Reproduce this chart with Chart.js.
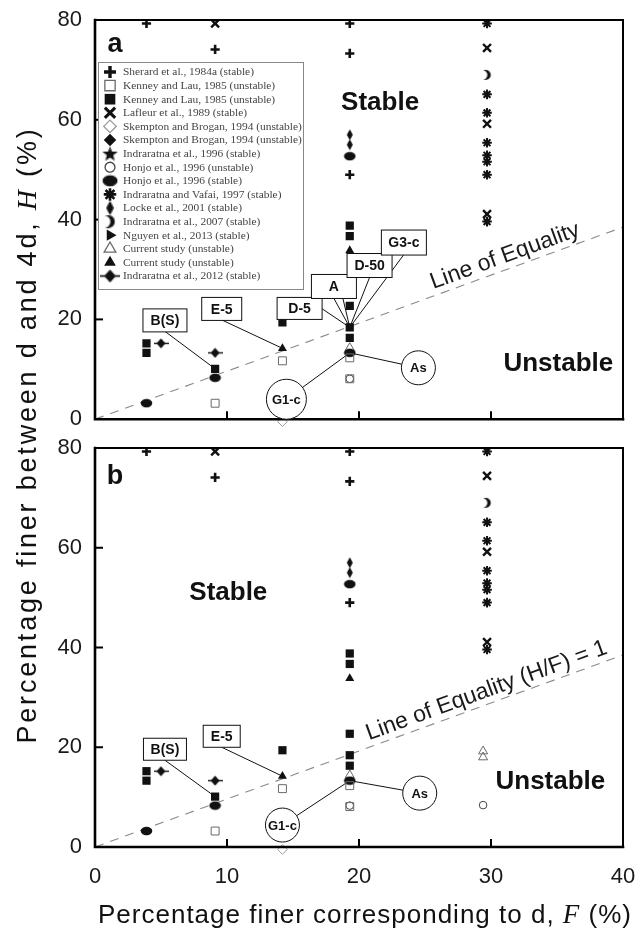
<!DOCTYPE html>
<html>
<head>
<meta charset="utf-8">
<script src="https://cdn.jsdelivr.net/npm/chart.js@4.4.1/dist/chart.umd.min.js"></script>
<style>
  html, body { margin:0; padding:0; background:#fff; }
  #wrap { position:relative; width:642px; height:931px; overflow:hidden; background:#fff; }
  #chartB { position:absolute; left:0; top:0; }
  #chartA { position:absolute; left:0; top:-30px; }
</style>
</head>
<body>
<div id="wrap">
  <canvas id="chartB" width="670" height="931"></canvas>
  <canvas id="chartA" width="642" height="476"></canvas>
</div>
<script>
// ================= DATA =================
const fTicks = [0, 10, 20, 30, 40];
const hTicks = [0, 20, 40, 60, 80];

const seriesLabels = [
  'Sherard et al., 1984a (stable)',
  'Kenney and Lau, 1985 (unstable)',
  'Kenney and Lau, 1985 (unstable)',
  'Lafleur et al., 1989 (stable)',
  'Skempton and Brogan, 1994 (unstable)',
  'Skempton and Brogan, 1994 (unstable)',
  'Indraratna et al., 1996 (stable)',
  'Honjo et al., 1996 (unstable)',
  'Honjo et al., 1996 (stable)',
  'Indraratna and Vafai, 1997 (stable)',
  'Locke et al., 2001 (stable)',
  'Indraratna et al., 2007 (stable)',
  'Nguyen et al., 2013 (stable)',
  'Current study (unstable)',
  'Current study (unstable)',
  'Indraratna et al., 2012 (stable)'
];

// points as [F, H]  (panel a)
const sherard        = [[3.9, 79.3], [9.1, 74.1], [19.3, 79.3], [19.3, 73.3], [19.3, 49.0]];
const kenneyOpen     = [[9.1, 3.2], [14.2, 11.7], [19.3, 12.3], [19.3, 8.1]];
const kenneyFilled   = [[3.9, 15.2], [3.9, 13.3], [9.1, 10.1], [14.2, 19.4], [19.3, 38.8], [19.3, 36.7], [19.3, 22.7], [19.3, 18.4], [19.3, 16.3]];
const lafleur        = [[9.1, 79.3], [29.7, 74.4], [29.7, 59.2], [29.7, 41.1]];
const skemptonOpen   = [[14.2, -0.5]];
const skemptonFilled = [];
const indraratna1996 = [];
const honjoOpen      = [[19.3, 8.1], [19.3, -2.0]];
const honjoFilled    = [[3.9, 3.2], [9.1, 8.3], [19.3, 52.7], [19.3, 13.3]];
const indraratnaVafai= [[29.7, 79.3], [29.7, 65.1], [29.7, 61.4], [29.7, 55.4], [29.7, 52.9], [29.7, 51.6], [29.7, 49.0], [29.7, 39.6]];
const locke          = [[19.3, 57.0], [19.3, 55.0]];
const indraratna2007 = [[29.7, 69.0]];
const nguyen         = [];
const currentOpen    = [[19.3, 14.3]];
const currentFilled  = [[14.2, 14.2], [19.3, 33.8]];
const indraratna2012 = [[5.0, 15.2], [9.1, 13.3]];

// panel b differences
const honjoOpenB     = [[19.3, 8.3], [19.3, -1.5], [29.4, 8.4], [29.4, -1.5]];
const currentOpenB   = [[19.3, 14.4], [29.4, 19.2], [29.4, 18.0]];

const equalityLine = [[0, 0], [40, 38.5]];

const seriesA = [sherard, kenneyOpen, kenneyFilled, lafleur, skemptonOpen, skemptonFilled, indraratna1996,
  honjoOpen, honjoFilled, indraratnaVafai, locke, indraratna2007, nguyen, currentOpen, currentFilled, indraratna2012];
const seriesB = [sherard, kenneyOpen, kenneyFilled, lafleur, skemptonOpen, skemptonFilled, indraratna1996,
  honjoOpenB, honjoFilled, indraratnaVafai, locke, indraratna2007, nguyen, currentOpenB, currentFilled, indraratna2012];

const regionLabels = ['Stable', 'Unstable'];
const eqTextA = 'Line of Equality';
const eqTextB = 'Line of Equality (H/F) = 1';
const xTitleParts = ['Percentage finer corresponding to d, ', 'F', ' (%)'];
const yTitleParts = ['Percentage finer between d and 4d, ', 'H', ' (%)'];

// ================= STYLES =================
const SANS = '"Liberation Sans", Arial, Helvetica, sans-serif';
const SERIF = '"Liberation Serif", "Times New Roman", serif';
const BLACK = '#111';
const GREY = '#6a6a6a';

function mkCanvas(w, h, fn) {
  const c = document.createElement('canvas');
  c.width = w; c.height = h;
  fn(c.getContext('2d'), w, h);
  return c;
}
const imgStar = mkCanvas(13, 13, g => {
  g.fillStyle = BLACK; g.beginPath();
  for (let i = 0; i < 10; i++) {
    const r = i % 2 ? 2.6 : 6.2, a = -Math.PI / 2 + i * Math.PI / 5;
    g.lineTo(6.5 + r * Math.cos(a), 7 + r * Math.sin(a));
  }
  g.closePath(); g.fill();
});
const imgEllipse = mkCanvas(13, 10, g => {
  g.fillStyle = BLACK; g.beginPath(); g.ellipse(6.5, 5, 5.8, 4.2, 0, 0, Math.PI * 2); g.fill();
});
const imgLocke = mkCanvas(8, 12, g => {
  g.fillStyle = BLACK; g.beginPath();
  g.moveTo(4, 0.5); g.lineTo(7, 6); g.lineTo(4, 11.5); g.lineTo(1, 6); g.closePath(); g.fill();
});
const imgCrescent = mkCanvas(9, 12, g => {
  g.fillStyle = BLACK; g.beginPath(); g.arc(3.2, 6, 5, 0, Math.PI * 2); g.fill();
  g.globalCompositeOperation = 'destination-out';
  g.beginPath(); g.arc(0.2, 6, 4.6, 0, Math.PI * 2); g.fill();
});
const imgDiaLine = mkCanvas(15, 11, g => {
  g.strokeStyle = BLACK; g.lineWidth = 1.4; g.beginPath(); g.moveTo(0, 5.5); g.lineTo(15, 5.5); g.stroke();
  g.fillStyle = BLACK; g.beginPath();
  g.moveTo(7.5, 0.5); g.lineTo(12, 5.5); g.lineTo(7.5, 10.5); g.lineTo(3, 5.5); g.closePath(); g.fill();
});

const TRANSP = 'rgba(255,255,255,0)';
const STYLES = [
  { pointStyle: 'cross',    pointRadius: 4.6, pointBorderWidth: 2.6, pointBorderColor: BLACK, pointBackgroundColor: BLACK },
  { pointStyle: 'rect',     pointRadius: 5.6, pointBorderWidth: 1,   pointBorderColor: GREY,  pointBackgroundColor: TRANSP },
  { pointStyle: 'rect',     pointRadius: 5.8, pointBorderWidth: 0,   pointBorderColor: BLACK, pointBackgroundColor: BLACK },
  { pointStyle: 'crossRot', pointRadius: 5.6, pointBorderWidth: 2.4, pointBorderColor: BLACK, pointBackgroundColor: BLACK },
  { pointStyle: 'rectRot',  pointRadius: 4.8, pointBorderWidth: 1,   pointBorderColor: '#999', pointBackgroundColor: TRANSP },
  { pointStyle: 'rectRot',  pointRadius: 4.8, pointBorderWidth: 0,   pointBorderColor: BLACK, pointBackgroundColor: BLACK },
  { pointStyle: imgStar,    pointRadius: 5 },
  { pointStyle: 'circle',   pointRadius: 3.8, pointBorderWidth: 1,   pointBorderColor: '#444', pointBackgroundColor: TRANSP },
  { pointStyle: imgEllipse, pointRadius: 5 },
  { pointStyle: 'star',     pointRadius: 4.8, pointBorderWidth: 2.0, pointBorderColor: BLACK, pointBackgroundColor: BLACK },
  { pointStyle: imgLocke,   pointRadius: 5 },
  { pointStyle: imgCrescent,pointRadius: 5 },
  { pointStyle: 'triangle', pointRadius: 5, pointRotation: 90, pointBorderWidth: 0, pointBorderColor: BLACK, pointBackgroundColor: BLACK },
  { pointStyle: 'triangle', pointRadius: 5.2, pointBorderWidth: 1,   pointBorderColor: GREY,  pointBackgroundColor: TRANSP },
  { pointStyle: 'triangle', pointRadius: 5.2, pointBorderWidth: 0,   pointBorderColor: BLACK, pointBackgroundColor: BLACK },
  { pointStyle: imgDiaLine, pointRadius: 5 }
];
const NOCLIP = [4, 7];

// annotation callouts (anchor in data units, connector target = data point)
const notesA = [
  { text: 'B(S)', shape: 'box', at: [5.3, 19.8], w: 44, h: 23, to: [[9.1, 10.1]], from: [[0, 11]] },
  { text: 'E-5',  shape: 'box', at: [9.6, 22.1], w: 40, h: 23, to: [[14.2, 14.2]], from: [[0, 11]] },
  { text: 'D-5',  shape: 'box', at: [15.5, 22.2], w: 45, h: 22, to: [[19.3, 18.4]], from: [[22, 0]] },
  { text: 'A',    shape: 'box', at: [18.1, 26.6], w: 45, h: 24, to: [[19.3, 18.4], [19.3, 18.4]], from: [[0, 12], [9, 12]] },
  { text: 'D-50', shape: 'box', at: [20.8, 30.8], w: 45, h: 24, to: [[19.3, 18.4]], from: [[0, 12]] },
  { text: 'G3-c', shape: 'box', at: [23.4, 35.4], w: 45, h: 25, to: [[19.3, 18.4]], from: [[0, 12]] },
  { text: 'As',   shape: 'circle', at: [24.5, 10.3], r: 17, to: [[19.3, 13.3]] },
  { text: 'G1-c', shape: 'circle', at: [14.5, 4.0], r: 20, to: [[19.3, 13.3]] }
];
const notesB = [
  { text: 'B(S)', shape: 'box', at: [5.3, 19.6], w: 43, h: 22, to: [[9.1, 10.1]], from: [[0, 11]] },
  { text: 'E-5',  shape: 'box', at: [9.6, 22.2], w: 37, h: 22, to: [[14.2, 14.2]], from: [[0, 11]] },
  { text: 'G1-c', shape: 'circle', at: [14.2, 4.4], r: 17, to: [[19.3, 13.3]] },
  { text: 'As',   shape: 'circle', at: [24.6, 10.8], r: 17, to: [[19.3, 13.3]] }
];

// ================= HELPERS =================
function drawSymbol(ctx, st, x, y, k) {
  ctx.save();
  ctx.translate(x, y); ctx.scale(k, k);
  const ps = st.pointStyle;
  if (ps instanceof HTMLCanvasElement) {
    ctx.drawImage(ps, -ps.width / 2, -ps.height / 2);
    ctx.restore(); return;
  }
  const r = st.pointRadius;
  let rad = (st.pointRotation || 0) * Math.PI / 180;
  ctx.lineWidth = st.pointBorderWidth;
  ctx.strokeStyle = st.pointBorderColor; ctx.fillStyle = st.pointBackgroundColor;
  ctx.beginPath();
  const cross = (a) => {
    const xo = Math.sin(a) * r, yo = Math.cos(a) * r;
    ctx.moveTo(-xo, -yo); ctx.lineTo(xo, yo);
    ctx.moveTo(-yo, xo); ctx.lineTo(yo, -xo);
  };
  switch (ps) {
    case 'cross': cross(rad); break;
    case 'crossRot': cross(rad + Math.PI / 4); break;
    case 'star': cross(rad); cross(rad + Math.PI / 4); break;
    case 'rect': { const s = r * Math.SQRT1_2; ctx.rect(-s, -s, 2 * s, 2 * s); break; }
    case 'rectRot': ctx.moveTo(-r, 0); ctx.lineTo(0, -r); ctx.lineTo(r, 0); ctx.lineTo(0, r); ctx.closePath(); break;
    case 'circle': ctx.arc(0, 0, r, 0, Math.PI * 2); break;
    case 'triangle':
      ctx.moveTo(Math.sin(rad) * r, -Math.cos(rad) * r); rad += 2 * Math.PI / 3;
      ctx.lineTo(Math.sin(rad) * r, -Math.cos(rad) * r); rad += 2 * Math.PI / 3;
      ctx.lineTo(Math.sin(rad) * r, -Math.cos(rad) * r); ctx.closePath(); break;
  }
  if (!/cross|star/.test(ps)) ctx.fill();
  if (st.pointBorderWidth > 0) ctx.stroke();
  ctx.restore();
}

function drawFrame(chart) {
  const { ctx, chartArea: a, scales: { x, y } } = chart;
  ctx.save();
  ctx.strokeStyle = '#000'; ctx.lineCap = 'square';
  ctx.lineWidth = 2;
  ctx.beginPath(); ctx.moveTo(a.left, a.top); ctx.lineTo(a.right, a.top); ctx.lineTo(a.right, a.bottom); ctx.stroke();
  ctx.lineWidth = 2.6;
  ctx.beginPath(); ctx.moveTo(a.left, a.top); ctx.lineTo(a.left, a.bottom); ctx.lineTo(a.right, a.bottom); ctx.stroke();
  ctx.lineWidth = 2; ctx.lineCap = 'butt';
  hTicks.slice(1, -1).forEach(v => {
    const py = y.getPixelForValue(v);
    ctx.beginPath(); ctx.moveTo(a.left, py); ctx.lineTo(a.left + 8, py); ctx.stroke();
  });
  fTicks.slice(1, -1).forEach(v => {
    const px = x.getPixelForValue(v);
    ctx.beginPath(); ctx.moveTo(px, a.bottom); ctx.lineTo(px, a.bottom - 8); ctx.stroke();
  });
  ctx.restore();
}

function drawConnectors(chart, notes) {
  const { ctx, scales: { x, y } } = chart;
  ctx.save(); ctx.strokeStyle = BLACK; ctx.lineWidth = 1;
  notes.forEach(n => {
    const cx = x.getPixelForValue(n.at[0]), cy = y.getPixelForValue(n.at[1]);
    n.to.forEach((t, i) => {
      const off = n.from ? n.from[i] : [0, 0];
      ctx.beginPath();
      ctx.moveTo(cx + off[0], cy + off[1]);
      ctx.lineTo(x.getPixelForValue(t[0]), y.getPixelForValue(t[1]));
      ctx.stroke();
    });
  });
  ctx.restore();
}

function drawNoteShapes(chart, notes) {
  const { ctx, scales: { x, y } } = chart;
  ctx.save();
  notes.forEach(n => {
    const cx = x.getPixelForValue(n.at[0]), cy = y.getPixelForValue(n.at[1]);
    ctx.fillStyle = '#fff'; ctx.strokeStyle = BLACK; ctx.lineWidth = 1;
    if (n.shape === 'circle') {
      ctx.beginPath(); ctx.arc(cx, cy, n.r, 0, Math.PI * 2); ctx.fill(); ctx.stroke();
      ctx.font = 'bold 13px ' + SANS;
    } else {
      ctx.fillRect(cx - n.w / 2, cy - n.h / 2, n.w, n.h);
      ctx.strokeRect(cx - n.w / 2, cy - n.h / 2, n.w, n.h);
      ctx.font = 'bold 14px ' + SANS;
    }
    ctx.fillStyle = BLACK; ctx.textAlign = 'center'; ctx.textBaseline = 'middle';
    ctx.fillText(n.text, cx, cy + 1);
  });
  ctx.restore();
}

function drawTexts(chart, cfg) {
  const { ctx, chartArea: a, scales: { x, y } } = chart;
  ctx.save();
  ctx.fillStyle = BLACK; ctx.textAlign = 'center'; ctx.textBaseline = 'middle';
  ctx.font = 'bold 27px ' + SANS;
  ctx.fillText(cfg.panel, a.left + 20, a.top + cfg.panelDy);
  ctx.font = 'bold 26px ' + SANS;
  ctx.fillText(regionLabels[0], x.getPixelForValue(cfg.stable[0]), y.getPixelForValue(cfg.stable[1]));
  ctx.fillText(regionLabels[1], x.getPixelForValue(cfg.unstable[0]), y.getPixelForValue(cfg.unstable[1]));
  const x0 = x.getPixelForValue(equalityLine[0][0]), y0 = y.getPixelForValue(equalityLine[0][1]);
  const x1 = x.getPixelForValue(equalityLine[1][0]), y1 = y.getPixelForValue(equalityLine[1][1]);
  const ang = Math.atan2(y1 - y0, x1 - x0);
  const f = cfg.eqAt;
  const fy = equalityLine[0][1] + (equalityLine[1][1] - equalityLine[0][1]) * (f - equalityLine[0][0]) / (equalityLine[1][0] - equalityLine[0][0]);
  const px = x.getPixelForValue(f), py = y.getPixelForValue(fy);
  ctx.translate(px + Math.sin(ang) * cfg.eqOff, py - Math.cos(ang) * cfg.eqOff);
  ctx.rotate(ang);
  ctx.font = '23px ' + SANS; ctx.fillStyle = '#1a1a1a';
  ctx.fillText(cfg.eqText, 0, 0);
  ctx.restore();
}

function drawLegend(chart) {
  const { ctx, chartArea: a } = chart;
  const lx = a.left + 3, ly = a.top + 42, lw = 205, lh = 227;
  ctx.save();
  ctx.fillStyle = '#fff'; ctx.fillRect(lx, ly, lw, lh);
  ctx.strokeStyle = '#888'; ctx.lineWidth = 1; ctx.strokeRect(lx + 0.5, ly + 0.5, lw, lh);
  ctx.font = '11.4px ' + SERIF; ctx.fillStyle = '#444'; ctx.textAlign = 'left'; ctx.textBaseline = 'middle';
  seriesLabels.forEach((lab, i) => {
    const yy = ly + 10 + i * 13.6;
    drawSymbol(ctx, STYLES[i], lx + 12, yy, 1.3);
    ctx.fillStyle = '#444';
    ctx.fillText(lab, lx + 25, yy + 0.5);
  });
  ctx.restore();
}

function drawMixed(ctx, parts, cx, cy, rot, size, spacing) {
  ctx.save();
  ctx.translate(cx, cy); ctx.rotate(rot);
  ctx.textBaseline = 'middle'; ctx.textAlign = 'left'; ctx.fillStyle = BLACK;
  ctx.letterSpacing = spacing + 'px';
  const fonts = [size + 'px ' + SANS, 'italic ' + (size + 1) + 'px ' + SERIF, size + 'px ' + SANS];
  let total = 0;
  const ws = parts.map((p, i) => { ctx.font = fonts[i]; const w = ctx.measureText(p).width; total += w; return w; });
  let xx = -total / 2;
  parts.forEach((p, i) => { ctx.font = fonts[i]; ctx.fillText(p, xx, 0); xx += ws[i]; });
  ctx.restore();
}

function makePlugin(cfg) {
  return {
    id: 'deco' + cfg.panel,
    beforeDatasetsDraw(chart) { drawConnectors(chart, cfg.notes); },
    afterDraw(chart) {
      drawFrame(chart);
      drawNoteShapes(chart, cfg.notes);
      drawTexts(chart, cfg);
      if (cfg.legend) drawLegend(chart);
      if (cfg.titles) {
        drawMixed(chart.ctx, xTitleParts, 365, 916, 0, 26, 1.0);
        drawMixed(chart.ctx, yTitleParts, 29, 435, -Math.PI / 2, 27, 2.8);
      }
    }
  };
}

function makeDatasets(series) {
  const ds = series.map((pts, i) => Object.assign({
    type: 'scatter',
    label: seriesLabels[i],
    data: pts.map(p => ({ x: p[0], y: p[1] })),
    showLine: false,
    clip: NOCLIP.includes(i) ? false : 0,
    order: 1
  }, STYLES[i]));
  ds.push({
    type: 'line', label: 'Line of Equality',
    data: equalityLine.map(p => ({ x: p[0], y: p[1] })),
    borderColor: '#8a8a8a', borderWidth: 1.1, borderDash: [9, 7],
    pointRadius: 0, fill: false, order: 5, clip: 0
  });
  return ds;
}

function makeChart(id, series, cfg, showX, target) {
  const cw = document.getElementById(id).width;
  const pad = { top: target.top, right: cw - target.right, bottom: 10, left: 0 };
  const config = {
    type: 'scatter',
    data: { datasets: makeDatasets(series) },
    options: {
      responsive: false, animation: false, devicePixelRatio: 1, events: [],
      layout: { padding: pad },
      plugins: { legend: { display: false }, tooltip: { enabled: false } },
      scales: {
        x: {
          type: 'linear', min: 0, max: 40, display: showX,
          afterBuildTicks: s => { s.ticks = fTicks.map(v => ({ value: v })); },
          afterFit: s => { s.height = showX ? 84 : 0; },
          grid: { display: false, drawTicks: false }, border: { display: false },
          ticks: { font: { family: SANS, size: 22 }, color: '#1a1a1a', padding: 17 }
        },
        y: {
          type: 'linear', min: 0, max: 80,
          afterBuildTicks: s => { s.ticks = hTicks.map(v => ({ value: v })); },
          afterFit: s => { s.width = 95; },
          grid: { display: false, drawTicks: false }, border: { display: false },
          ticks: { font: { family: SANS, size: 22 }, color: '#1a1a1a', padding: 13 }
        }
      }
    },
    plugins: [makePlugin(cfg)]
  };
  const chart = new Chart(document.getElementById(id), config);
  // calibrate the layout padding so the plot area lands on the target box
  for (let k = 0; k < 6; k++) {
    const a = chart.chartArea;
    const dT = target.top - a.top, dB = a.bottom - target.bottom;
    const dL = target.left - a.left, dR = a.right - target.right;
    if (Math.abs(dT) < 0.3 && Math.abs(dB) < 0.3 && Math.abs(dL) < 0.3 && Math.abs(dR) < 0.3) break;
    const np = {
      top: Math.max(0, pad.top + dT), bottom: Math.max(0, pad.bottom + dB),
      left: Math.max(0, pad.left + dL), right: Math.max(0, pad.right + dR)
    };
    Object.assign(pad, np);
    chart.config.options.layout.padding = Object.assign({}, pad);
    chart.update('none');
  }
  return chart;
}

makeChart('chartB', seriesB, {
  panel: 'b', panelDy: 29, notes: notesB, stable: [10.1, 50.9], unstable: [34.5, 13.0],
  eqText: eqTextB, eqAt: 30.0, eqOff: 13, legend: false, titles: true
}, true, { left: 95, top: 448, right: 623, bottom: 847 });

// panel a canvas sits 30px above the page top, so its target box is shifted by 30
makeChart('chartA', seriesA, {
  panel: 'a', panelDy: 25, notes: notesA, stable: [21.6, 63.5], unstable: [35.1, 11.1],
  eqText: eqTextA, eqAt: 31.4, eqOff: 13, legend: true, titles: false
}, false, { left: 95, top: 50, right: 623, bottom: 447 });
</script>
</body>
</html>
